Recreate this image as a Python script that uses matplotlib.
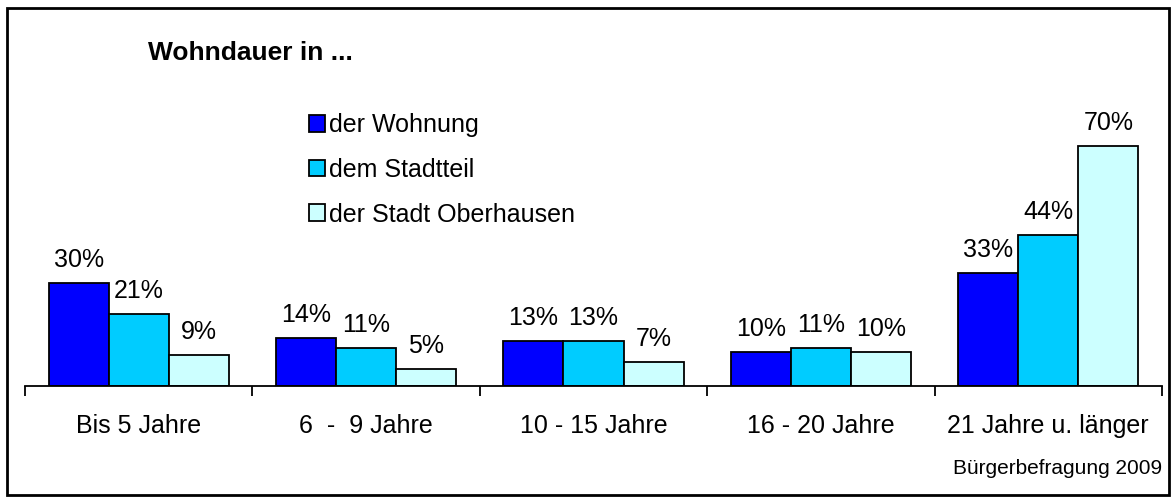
import numpy as np
import matplotlib
matplotlib.use("Agg")
import matplotlib.pyplot as plt
from matplotlib.patches import Rectangle, Patch

plt.rcParams['font.family'] = ['Liberation Sans', 'DejaVu Sans']

# data
categories = ["Bis 5 Jahre", "6  -  9 Jahre", "10 - 15 Jahre", "16 - 20 Jahre", "21 Jahre u. länger"]
series_names = ["der Wohnung", "dem Stadtteil", "der Stadt Oberhausen"]
wohnung = [30, 14, 13, 10, 33]
stadtteil = [21, 11, 13, 11, 44]
stadt = [9, 5, 7, 10, 70]
colors = ["#0000FF", "#00CCFF", "#CCFFFF"]

W, H = 1172, 499
fig = plt.figure(figsize=(W / 100, H / 100), dpi=100)
ax = fig.add_axes([25 / W, (H - 386) / H, (1162 - 25) / W, (386 - 43) / H])

x = np.arange(len(categories))
bw = 0.264
for i, (vals, col) in enumerate(zip([wohnung, stadtteil, stadt], colors)):
    pos = x + (i - 1) * bw
    ax.bar(pos, vals, width=bw, color=col, edgecolor="black", linewidth=1.3, zorder=2)
    for px, v in zip(pos, vals):
        ax.annotate(f"{v}%", (px, v), xytext=(0, 8), textcoords="offset points",
                    ha="center", va="bottom", fontsize=18)

ax.set_xlim(-0.5, len(categories) - 0.5)
ax.set_ylim(0, 100)
for s in ["top", "right", "left"]:
    ax.spines[s].set_visible(False)
ax.spines["bottom"].set_linewidth(1.3)
ax.set_yticks([])
ax.set_xticks(x)
ax.set_xticklabels(categories, fontsize=18)
ax.tick_params(axis="x", which="major", length=0, pad=20)
ax.set_xticks(np.arange(-0.5, len(categories)), minor=True)
ax.tick_params(axis="x", which="minor", length=7, width=1.3, direction="out")

fig.text(148 / W, 1 - 53 / H, "Wohndauer in ...", fontsize=19, fontweight="bold", va="center")
fig.text(1162 / W, 1 - 468 / H, "Bürgerbefragung 2009", fontsize=15, ha="right", va="center")

handles = [Patch(facecolor=c, edgecolor="black", linewidth=1.3) for c in colors]
fig.legend(handles, series_names, loc="upper left", bbox_to_anchor=(309 / W, 1 - 113 / H),
           frameon=False, fontsize=18, handlelength=0.65, handleheight=0.65,
           handletextpad=0.15, labelspacing=0.83, borderpad=0, borderaxespad=0)

fig.patches.append(Rectangle((7 / W, 4 / H), (1169 - 7) / W, (491 - 4) / H, transform=fig.transFigure,
                             fill=False, edgecolor="black", linewidth=2))

fig.savefig("out.png", dpi=100)
